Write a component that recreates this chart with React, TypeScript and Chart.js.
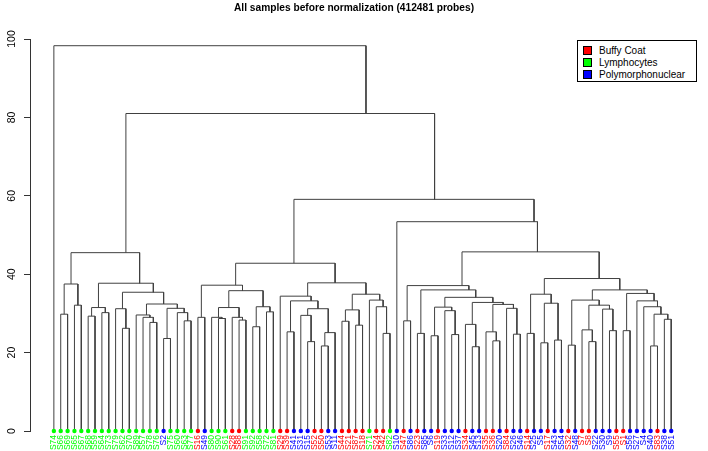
import { useEffect, useRef } from "react";
import { Chart, registerables } from "chart.js";

Chart.register(...registerables);

const FONT = "'Liberation Sans', Arial, Helvetica, sans-serif";

const titleText = "All samples before normalization (412481 probes)";

const groupNames = ["Buffy Coat", "Lymphocytes", "Polymorphonuclear"];
const groupCodes = ["B", "L", "P"];
const groupColors = ["#FF0000", "#00FF00", "#0000FF"];

const leafLabels = [
  "S74", "S66", "S69", "S65", "S67", "S68", "S59", "S64", "S73", "S79",
  "S62", "S70", "S89", "S57", "S78", "S76", "S2", "S75", "S60", "S63",
  "S77", "S16", "S49", "S80", "S90", "S61", "S28", "S88", "S91", "S92",
  "S58", "S72", "S81", "S29", "S39", "S41", "S31", "S15", "S52", "S50",
  "S53", "S11", "S44", "S21", "S87", "S18", "S71", "S24", "S42", "S82",
  "S10", "S47", "S86", "S23", "S85", "S6", "S19", "S33", "S12", "S37",
  "S34", "S45", "S13", "S35", "S36", "S20", "S84", "S26", "S46", "S14",
  "S25", "S5", "S17", "S43", "S54", "S32", "S48", "S7", "S8", "S22",
  "S30", "S9", "S55", "S1", "S56", "S27", "S4", "S40", "S83", "S38", "S51",
];

const leafGroups = [
  "L", "L", "L", "L", "L", "L", "L", "L", "L", "L",
  "L", "L", "L", "L", "L", "L", "P", "L", "L", "L",
  "L", "B", "P", "L", "L", "L", "B", "B", "L", "L",
  "L", "L", "L", "B", "B", "P", "P", "P", "B", "B",
  "P", "P", "B", "B", "B", "B", "L", "B", "B", "L",
  "P", "B", "P", "B", "P", "P", "B", "P", "P", "P",
  "B", "P", "P", "B", "B", "P", "B", "P", "P", "B",
  "P", "P", "B", "P", "P", "B", "P", "B", "B", "P",
  "P", "P", "B", "B", "P", "P", "P", "P", "B", "P", "P",
];

const yTicks = [0, 20, 40, 60, 80, 100];

// merge tree: leaf = index into leafLabels, node = [left, right, height]
type Tree = number | [Tree, Tree, number];

const lymphocyteCluster: Tree = [
  [[1, 2, 29.8], [3, 4, 32.1], 37.5],
  [
    [[5, 6, 29.3], [7, 8, 30.2], 31.5],
    [
      [9, [10, 11, 26.2], 31.2],
      [
        [12, [13, [14, 15, 27.7], 29.0], 29.6],
        [[16, 17, 23.6], [18, [19, 20, 28.1], 30.2], 31.3],
        32.4,
      ],
      35.4,
    ],
    37.7,
  ],
  45.5,
];

const mixedCluster: Tree = [
  [
    [21, 22, 29.0],
    [
      [[23, [24, 25, 28.7], 29.0], [26, [27, 28, 28.3], 29.0], 31.5],
      [[29, 30, 26.6], [31, 32, 30.4], 31.7],
      35.8,
    ],
    37.2,
  ],
  [
    [33, [[34, 35, 25.3], [[36, [37, 38, 22.8], 29.5], [[39, 40, 21.7], 41, 25.1], 31.2], 33.2], 34.4],
    [[[42, 43, 28.0], [44, 45, 27.0], 30.9], [46, [47, [48, 49, 24.9], 31.7], 33.4], 34.9],
    37.8,
  ],
  42.8,
];

const polyClusterA: Tree = [
  [51, 52, 28.1],
  [
    [53, 54, 24.9],
    [
      [[55, 56, 24.3], [57, [58, 59, 24.6], 30.7], 31.6],
      [[60, [61, 62, 21.5], 27.2], [[63, [64, 65, 23.0], 25.3], [66, [67, 68, 24.7], 31.3], 32.3], 32.8],
      34.1,
    ],
    36.0,
  ],
  37.1,
];

const polyClusterB: Tree = [
  [[69, 70, 24.9], [[71, 72, 22.5], [73, 74, 23.2], 32.6], 34.9],
  [
    [[75, 76, 21.9], [[77, [78, 79, 22.8], 25.8], [80, [81, 82, 25.6], 31.1], 32.1], 33.4],
    [[83, 84, 25.6], [85, [86, [[87, 88, 21.7], [89, 90, 28.5], 29.8], 31.7], 33.2], 35.1],
    36.0,
  ],
  38.9,
];

const dendrogram: Tree = [
  0,
  [lymphocyteCluster, [mixedCluster, [50, [polyClusterA, polyClusterB, 45.7], 53.4], 59.1], 81.0],
  98.3,
];

type Pt = { x: number; y: number };
type Placed = { x: number; y: number; lo: number; hi: number };

// each node is drawn at the centre of the span of its leaves
function layoutTree(node: Tree, segs: Pt[][]): Placed {
  if (typeof node === "number") return { x: node, y: 0, lo: node, hi: node };
  const l = layoutTree(node[0], segs);
  const r = layoutTree(node[1], segs);
  const h = node[2];
  segs.push([
    { x: l.x, y: l.y },
    { x: l.x, y: h },
    { x: r.x, y: h },
    { x: r.x, y: r.y },
  ]);
  const lo = Math.min(l.lo, r.lo);
  const hi = Math.max(l.hi, r.hi);
  return { x: (lo + hi) / 2, y: h, lo, hi };
}

const colorOf = (code: string) => groupColors[groupCodes.indexOf(code)];

export default function App() {
  const canvasRef = useRef<HTMLCanvasElement | null>(null);

  useEffect(() => {
    const segs: Pt[][] = [];
    layoutTree(dendrogram, segs);
    const chart = new Chart(canvasRef.current as HTMLCanvasElement, {
      type: "scatter",
      data: {
        datasets: [
          {
            data: leafLabels.map((_, i) => ({ x: i, y: 0 })),
            pointRadius: 2.2,
            pointBorderWidth: 0,
            pointBackgroundColor: leafGroups.map(colorOf),
            showLine: false,
            clip: false,
            order: 0,
          } as any,
          ...segs.map((s) => ({
            data: s,
            showLine: true,
            borderColor: "#404040",
            borderWidth: 1,
            pointRadius: 0,
            clip: false,
            order: 1,
          })),
        ],
      },
      options: {
        responsive: false,
        animation: false,
        events: [],
        layout: { padding: 0 },
        plugins: {
          legend: { display: false },
          tooltip: { enabled: false },
          title: {
            display: true,
            text: titleText,
            color: "#000",
            font: { family: FONT, size: 10.2, weight: "bold" },
            padding: { top: 2.4, bottom: 24.4 },
          },
        },
        scales: {
          x: {
            type: "linear",
            min: -3.48,
            max: 94.78,
            afterBuildTicks: (s: any) => {
              s.ticks = leafLabels.map((_, i) => ({ value: i }));
            },
            afterFit: (s: any) => {
              s.height = 20;
            },
            grid: { display: false, drawTicks: false },
            border: { display: false },
            ticks: {
              autoSkip: false,
              minRotation: 90,
              maxRotation: 90,
              padding: 4,
              font: { family: FONT, size: 8.5 },
              color: (ctx: any) => colorOf(leafGroups[ctx.index]),
              callback: (_v: any, i: number) => leafLabels[i],
            },
          },
          y: {
            type: "linear",
            min: 0,
            max: 100,
            afterBuildTicks: (s: any) => {
              s.ticks = yTicks.map((v) => ({ value: v }));
            },
            afterFit: (s: any) => {
              s.width = 30;
            },
            grid: { drawOnChartArea: false, drawTicks: true, tickLength: 6, color: "#333" },
            border: { display: true, color: "#333" },
            ticks: {
              minRotation: 90,
              maxRotation: 90,
              crossAlign: "center",
              padding: 3,
              color: "#000",
              font: { family: FONT, size: 10.5 },
            },
          },
        },
      } as any,
    });
    return () => chart.destroy();
  }, []);

  return (
    <div style={{ position: "fixed", left: 0, top: 0, width: 708, height: 451, background: "#fff" }}>
      <canvas ref={canvasRef} width={708} height={451} style={{ width: 708, height: 451, display: "block" }} />
      <div
        style={{
          position: "absolute",
          left: 577,
          top: 40,
          width: 120,
          height: 42,
          border: "1px solid #000",
          background: "#fff",
          boxSizing: "border-box",
          fontFamily: FONT,
          fontSize: 10,
          color: "#000",
        }}
      >
        {groupNames.map((name, i) => (
          <div
            key={name}
            style={{ position: "absolute", left: 5, top: 3 + i * 12, height: 12, display: "flex", alignItems: "center", whiteSpace: "nowrap" }}
          >
            <span
              style={{ display: "inline-block", width: 7, height: 7, border: "1px solid #000", background: groupColors[i], marginRight: 7 }}
            />
            <span>{name}</span>
          </div>
        ))}
      </div>
    </div>
  );
}
